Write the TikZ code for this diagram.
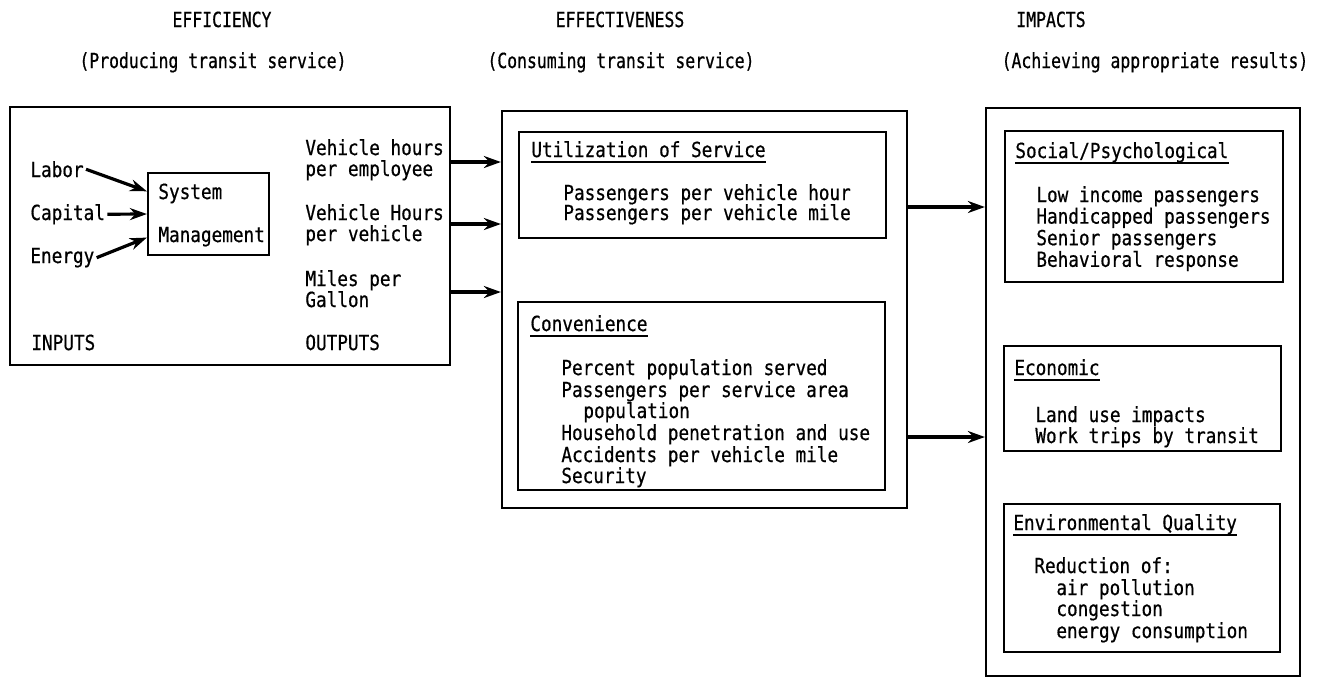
\documentclass[tikz,border=0pt]{standalone}
\usepackage{fontspec}
\setmonofont[FakeStretch=0.85,FakeBold=0.6]{DejaVu Sans Mono}
\newfontfamily\hdfont[FakeStretch=0.79,FakeBold=0.6]{DejaVu Sans Mono}
\usetikzlibrary{arrows.meta,fit,calc}
\begin{document}
\begin{tikzpicture}[x=0.5pt,y=-0.5pt,
  txt/.style={font=\ttfamily\fontsize{10.4}{12}\selectfont, inner sep=0pt, anchor=base west},
  hd/.style={font=\hdfont\fontsize{10.4}{12}\selectfont, inner sep=0pt, anchor=base},
  box/.style={draw, line width=1.1pt, inner sep=0pt},
  arr/.style={line width=1.6pt, -{Stealth[length=8.5pt,width=6pt]}},
  ul/.style={line width=0.8pt}]
\useasboundingbox (0,0) rectangle (1317,677);

% headings
\node[hd] (h1) at (222,27) {EFFICIENCY};
\node[hd] (s1) at (213,68) {(Producing transit service)};
\node[hd] (h2) at (620,27) {EFFECTIVENESS};
\node[hd] (s2) at (621,68) {(Consuming transit service)};
\node[hd] (h3) at (1051,27) {IMPACTS};
\node[hd] (s3) at (1155,68) {(Achieving appropriate results)};

% big boxes
\node[box, fit={(10,107) (450,365)}] (lbox) {};
\node[box, fit={(502,111) (907,508)}] (mbox) {};
\node[box, fit={(986,108) (1300,676)}] (rbox) {};

% efficiency box content
\node[box, fit={(148,173) (269,255)}] (sys) {};
\node[txt] (sysA) at (158,199) {System};
\node[txt] (sysB) at (158,242) {Management};
\node[txt] (labor) at (30,177) {Labor};
\node[txt] (capital) at (30,220) {Capital};
\node[txt] (energy) at (30,263) {Energy};
\draw[arr] ([xshift=1pt]labor.east) -- ($(sys.north west)!0.23!(sys.south west)$);
\draw[arr] ([xshift=1pt]capital.east) -- (sys.west);
\draw[arr] ([xshift=1pt]energy.east) -- ($(sys.north west)!0.78!(sys.south west)$);

\node[txt] (o1a) at (305,155) {Vehicle hours};
\node[txt] (o1b) at (305,176) {per employee};
\node[txt] (o2a) at (305,220) {Vehicle Hours};
\node[txt] (o2b) at (305,241) {per vehicle};
\node[txt] (o3a) at (305,286) {Miles per};
\node[txt] (o3b) at (305,307) {Gallon};
\node[txt] (inputs) at (31,350) {INPUTS};
\node[txt] (outputs) at (305,350) {OUTPUTS};

\coordinate (y1) at (0,162);
\coordinate (y2) at (0,224);
\coordinate (y3) at (0,292);
\draw[arr] (lbox.east |- y1) -- (mbox.west |- y1);
\draw[arr] (lbox.east |- y2) -- (mbox.west |- y2);
\draw[arr] (lbox.east |- y3) -- (mbox.west |- y3);

% effectiveness content
\node[box, fit={(519,132) (886,238)}] (util) {};
\node[txt] (utilT) at (531,157) {Utilization of Service};
\draw[ul] ([yshift=-2.5pt]utilT.base west) -- ([yshift=-2.5pt]utilT.base east);
\node[txt] (u1) at (563,200) {Passengers per vehicle hour};
\node[txt] (u2) at (563,220) {Passengers per vehicle mile};

\node[box, fit={(518,302) (885,490)}] (conv) {};
\node[txt] (convT) at (530,331) {Convenience};
\draw[ul] ([yshift=-2.5pt]convT.base west) -- ([yshift=-2.5pt]convT.base east);
\node[txt] (c1) at (561,375) {Percent population served};
\node[txt] (c2) at (561,397) {Passengers per service area};
\node[txt] (c3) at (583,418) {population};
\node[txt] (c4) at (561,440) {Household penetration and use};
\node[txt] (c5) at (561,462) {Accidents per vehicle mile};
\node[txt] (c6) at (561,483) {Security};

\coordinate (y4) at (0,207);
\coordinate (y5) at (0,437);
\draw[arr] (mbox.east |- y4) -- (rbox.west |- y4);
\draw[arr] (mbox.east |- y5) -- (rbox.west |- y5);

% impacts content
\node[box, fit={(1005,131) (1283,282)}] (soc) {};
\node[txt] (socT) at (1015,158) {Social/Psychological};
\draw[ul] ([yshift=-2.5pt]socT.base west) -- ([yshift=-2.5pt]socT.base east);
\foreach \t [count=\i from 0] in {Low income passengers, Handicapped passengers, Senior passengers, Behavioral response}
  \node[txt] (soc\i) at (1036,{202+21.6*\i}) {\t};

\node[box, fit={(1004,346) (1281,451)}] (eco) {};
\node[txt] (ecoT) at (1014,375) {Economic};
\draw[ul] ([yshift=-2.5pt]ecoT.base west) -- ([yshift=-2.5pt]ecoT.base east);
\node[txt] (e1) at (1035,422) {Land use impacts};
\node[txt] (e2) at (1035,443) {Work trips by transit};

\node[box, fit={(1004,504) (1280,652)}] (env) {};
\node[txt] (envT) at (1013,530) {Environmental Quality};
\draw[ul] ([yshift=-2.5pt]envT.base west) -- ([yshift=-2.5pt]envT.base east);
\node[txt] (r0) at (1034,573) {Reduction of:};
\node[txt] (r1) at (1056,595) {air pollution};
\node[txt] (r2) at (1056,616) {congestion};
\node[txt] (r3) at (1056,638) {energy consumption};
\end{tikzpicture}
\end{document}
